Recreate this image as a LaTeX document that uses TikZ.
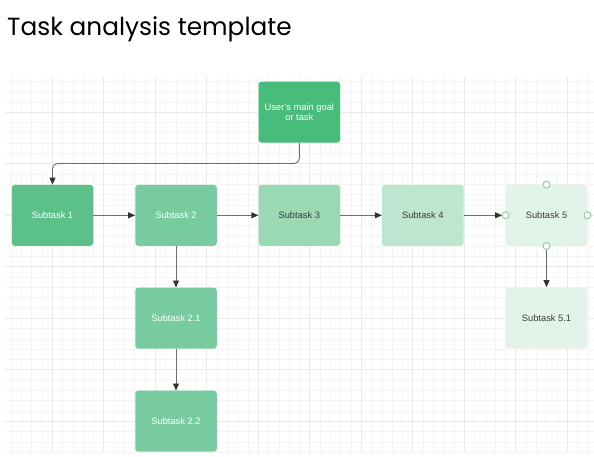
\documentclass[tikz,border=0pt]{standalone}
\usepackage{fontspec}
\setmainfont{Liberation Sans}
\newfontfamily\titlefont{Poppins}
\usetikzlibrary{arrows.meta}
\definecolor{gmain}{HTML}{48BD7B}
\definecolor{gone}{HTML}{5CC188}
\definecolor{gtwo}{HTML}{77CB9E}
\definecolor{gthree}{HTML}{9BD9B5}
\definecolor{gfour}{HTML}{BDE6D0}
\definecolor{gfive}{HTML}{E2F4E9}
\definecolor{gridminor}{HTML}{F4F4F4}
\definecolor{gridmajor}{HTML}{EAEAEA}
\definecolor{linegray}{HTML}{6E6E6E}
\definecolor{tipgray}{HTML}{333333}
\definecolor{darktext}{HTML}{3A3A3A}
\definecolor{ringgreen}{HTML}{7DC88F}
\tikzset{
  x=1pt, y=-1pt,
  taskbox/.style={rectangle, rounded corners=3pt, minimum width=81.5pt, minimum height=61pt,
    inner sep=0pt, align=center, font=\fontsize{9.3}{11.5}\selectfont},
  lighttext/.style={text=white},
  darkbox/.style={text=darktext},
  link/.style={draw=linegray, line width=0.9pt, -{Triangle[length=7pt,width=6pt,fill=tipgray,color=tipgray]}},
  ring/.style={circle, draw=ringgreen, fill=white, line width=0.8pt, minimum size=7pt, inner sep=0pt},
}
\begin{document}
\begin{tikzpicture}
\useasboundingbox (0,0) rectangle (594,457);
\fill[white] (0,0) rectangle (594,457);
% grid
\begin{scope}
\clip (5,77) rectangle (594,452);
\foreach \i in {-5,...,55} {
  \pgfmathsetmacro{\gx}{52.3+10.3*\i}
  \draw[gridminor, line width=0.8pt] (\gx,77) -- (\gx,452);
}
\foreach \i in {-4,...,33} {
  \pgfmathsetmacro{\gy}{112.3+10.3*\i}
  \draw[gridminor, line width=0.8pt] (5,\gy) -- (594,\gy);
}
\foreach \i in {-1,...,11} {
  \pgfmathsetmacro{\gx}{52.3+51.5*\i}
  \draw[gridmajor, line width=0.9pt] (\gx,77) -- (\gx,452);
}
\foreach \i in {-1,...,6} {
  \pgfmathsetmacro{\gy}{112.3+51.5*\i}
  \draw[gridmajor, line width=0.9pt] (5,\gy) -- (594,\gy);
}
\end{scope}
% title
\node[anchor=base west, inner sep=0pt, font=\titlefont\fontsize{24.8}{30}\selectfont] (title) at (7,36) {Task analysis template};
% nodes
\node[taskbox, fill=gmain, lighttext] (main) at (299.3,112.2) {User's main goal\\[-1pt]or task};
\node[taskbox, fill=gone, lighttext] (s1) at (52.5,215.3) {Subtask 1};
\node[taskbox, fill=gtwo, lighttext] (s2) at (176,215.3) {Subtask 2};
\node[taskbox, fill=gthree, darkbox] (s3) at (299.3,215.3) {Subtask 3};
\node[taskbox, fill=gfour, darkbox] (s4) at (422.8,215.3) {Subtask 4};
\node[taskbox, fill=gfive, darkbox] (s5) at (546.5,215.3) {Subtask 5};
\node[taskbox, fill=gfive, darkbox] (s51) at (546.5,317.8) {Subtask 5.1};
\node[taskbox, fill=gtwo, lighttext] (s21) at (176,318.2) {Subtask 2.1};
\node[taskbox, fill=gtwo, lighttext] (s22) at (176,421.2) {Subtask 2.2};
% connectors
\coordinate (bend) at (299.3,163.5);
\draw[link, rounded corners=5pt] (main.south) -- (bend) -- (s1.north |- bend) -- (s1.north);
\draw[link] (s1.east) -- (s2.west);
\draw[link] (s2.east) -- (s3.west);
\draw[link] (s3.east) -- (s4.west);
\draw[link, shorten >=3.5pt] (s4.east) -- (s5.west);
\draw[link] (s2.south) -- (s21.north);
\draw[link] (s21.south) -- (s22.north);
\draw[link, shorten <=3.5pt] (s5.south) -- (s51.north);
% connection rings on Subtask 5
\node[ring] (r1) at (s5.north) {};
\node[ring] (r2) at (s5.west) {};
\node[ring] (r3) at (s5.east) {};
\node[ring] (r4) at (s5.south) {};
\end{tikzpicture}
\end{document}
